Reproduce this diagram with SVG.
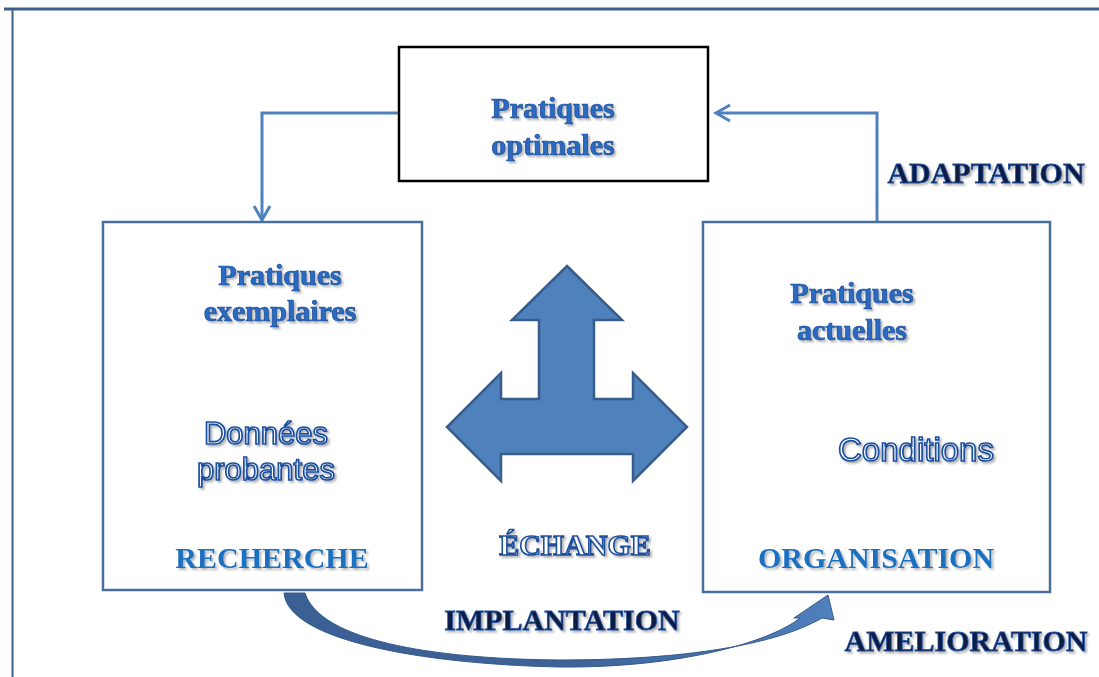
<svg xmlns="http://www.w3.org/2000/svg" width="1099" height="677" viewBox="0 0 1099 677">
<defs>
<style>
.t{font-family:"Liberation Serif","Times New Roman",serif;font-weight:bold;font-size:30px;text-anchor:middle}
.blue{fill:#2c6bc0;stroke:#1a4c96;stroke-width:0.7;filter:url(#sh)}
.bold2{fill:#1c6fc0;filter:url(#sh)}
.navy{fill:#0b1a3f;stroke:#2453a0;stroke-width:0.8;filter:url(#sh)}
.outl{fill:#ffffff;stroke:#1f4f9c;stroke-width:1.6;filter:url(#sh)}
.sans{font-family:"Liberation Sans",Arial,sans-serif;font-size:31px;text-anchor:middle;fill:#ffffff;stroke:#1a4f9f;stroke-width:1.7;filter:url(#sh)}
.box{fill:#ffffff;stroke:#4a6e9e;stroke-width:2.5}
.conn{fill:none;stroke:#4f81bd;stroke-width:3}
</style>
<filter id="sh" x="-10%" y="-30%" width="130%" height="170%">
<feDropShadow dx="2" dy="2" stdDeviation="1.2" flood-color="#000000" flood-opacity="0.3"/>
</filter>
<linearGradient id="cg" x1="0" y1="0" x2="1" y2="0">
<stop offset="0" stop-color="#3a5f93"/>
<stop offset="0.5" stop-color="#3d6399"/>
<stop offset="1" stop-color="#4f81bd"/>
</linearGradient>
</defs>
<rect x="0" y="0" width="1099" height="677" fill="#ffffff"/>
<g id="frame">
<line x1="4" y1="9" x2="1099" y2="9" stroke="#3c6191" stroke-width="3"/>
<line x1="12.5" y1="8" x2="12.5" y2="677" stroke="#3c6191" stroke-width="2"/>
</g>
<g id="connectors">
<path class="conn" d="M398 113 H262 V220"/>
<path class="conn" d="M254 206 L262 220 L270 206"/>
<path class="conn" d="M877 222 V113 H716"/>
<path class="conn" d="M730 105 L716 113 L730 121"/>
<path id="implantation-arrow" fill="url(#cg)" stroke="#35598a" stroke-width="1" d="M284 593 C288 640 420 664 560 667 C680 668 770 642 800 618 L794 618 L828 595 L834 620 L822 618 C770 648 670 660 560 660 C430 659 320 640 305 593 Z"/>
</g>
<g id="optimales">
<rect x="399" y="47" width="309" height="134" fill="#ffffff" stroke="#000000" stroke-width="2.5"/>
<text class="t blue" x="553" y="118">Pratiques</text>
<text class="t blue" x="553" y="155">optimales</text>
</g>
<g id="recherche">
<rect class="box" x="103" y="222" width="319" height="368"/>
<text class="t blue" x="280" y="285">Pratiques</text>
<text class="t blue" x="280" y="321">exemplaires</text>
<text class="sans" x="266" y="444">Données</text>
<text class="sans" x="266" y="480">probantes</text>
<text class="t bold2" x="272" y="568">RECHERCHE</text>
</g>
<g id="organisation">
<rect class="box" x="703" y="222" width="347" height="370"/>
<text class="t blue" x="852" y="303">Pratiques</text>
<text class="t blue" x="852" y="340">actuelles</text>
<text class="sans" x="916" y="461" style="font-size:33px">Conditions</text>
<text class="t bold2" x="876" y="568">ORGANISATION</text>
</g>
<g id="echange">
<path fill="#4f81bd" stroke="#385d8a" stroke-width="2.5" stroke-linejoin="miter" d="M567 266 L622 320 L594 320 L594 399 L633 399 L633 373 L687 427 L633 481 L633 454 L501 454 L501 481 L447 427 L501 373 L501 399 L539 399 L539 320 L512 320 Z"/>
<text class="t outl" x="575" y="555">ÉCHANGE</text>
</g>
<g id="labels">
<text class="t navy" x="562" y="630">IMPLANTATION</text>
<text class="t navy" x="986" y="183">ADAPTATION</text>
<text class="t navy" x="966" y="651">AMELIORATION</text>
</g>
</svg>
